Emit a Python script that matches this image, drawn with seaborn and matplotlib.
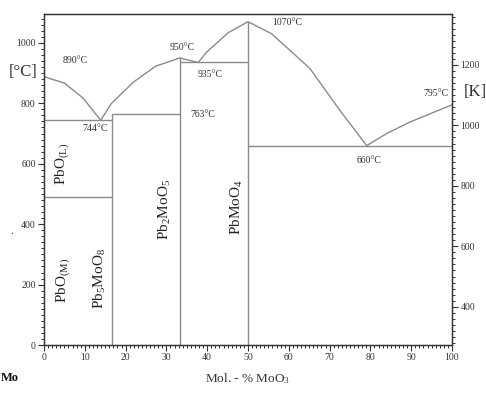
import matplotlib
matplotlib.use("Agg")
import matplotlib.pyplot as plt
from matplotlib.ticker import MultipleLocator
import seaborn as sns
import pandas as pd

# Liquidus of the PbO - MoO3 system (mol. % MoO3, temperature in °C)
liq_x = [0, 5, 9.6, 13.9, 16.5, 21.9, 27.4, 33.3, 37.8, 39.9, 45.2, 50, 55.8, 65.2, 72.5, 79.1, 84, 89.7, 100]
liq_t = [888, 867, 817, 744, 799, 870, 923, 950, 935, 970, 1034, 1070, 1030, 915, 777, 660, 700, 738, 795]

# Invariant (horizontal) lines: start, end, temperature
inv_x0 = [0, 0, 16.7, 33.3, 50]
inv_x1 = [16.7, 16.7, 33.3, 50, 100]
inv_t = [489, 744, 763, 935, 660]

# Compounds (vertical lines): composition, upper temperature
comp_x = [16.7, 33.3, 50]
comp_t = [763, 950, 1070]

# Phase names: text, x, T
phase_txt = [r"PbO$_{\mathrm{(L)}}$", r"PbO$_{\mathrm{(M)}}$", r"Pb$_{\mathrm{5}}$MoO$_{\mathrm{8}}$",
             r"Pb$_{\mathrm{2}}$MoO$_{\mathrm{5}}$", r"PbMoO$_{\mathrm{4}}$"]
phase_x = [4.4, 4.7, 13.7, 29.7, 47.2]
phase_t = [600, 215, 222, 450, 456]

# Temperature notes: text, x, T
note_txt = ["890°C", "744°C", "950°C", "935°C", "763°C", "1070°C", "660°C", "795°C"]
note_x = [7.6, 12.5, 33.9, 40.7, 39.0, 59.6, 79.7, 96.0]
note_t = [942, 717, 985, 896, 763, 1068, 612, 833]

sns.set_theme(style="ticks")
plt.rcParams["font.family"] = ["Liberation Serif", "DejaVu Serif"]
plt.rcParams["mathtext.fontset"] = "custom"
plt.rcParams["mathtext.rm"] = "Liberation Serif"
plt.rcParams["mathtext.it"] = "Liberation Serif:italic"
plt.rcParams["mathtext.bf"] = "Liberation Serif:bold"

line_col = "#8a8a8a"

fig = plt.figure(figsize=(4.86, 3.93), dpi=100)
ax = fig.add_axes([0.0905, 0.122, 0.8395, 0.842])

df = pd.DataFrame({"x": liq_x, "T": liq_t})
sns.lineplot(data=df, x="x", y="T", sort=False, color=line_col, lw=1.0, ax=ax)

for a, b, t in zip(inv_x0, inv_x1, inv_t):
    ax.plot([a, b], [t, t], color=line_col, lw=1.0)
for c, t in zip(comp_x, comp_t):
    ax.plot([c, c], [0, t], color=line_col, lw=1.0)

for s, x, t in zip(phase_txt, phase_x, phase_t):
    ax.text(x, t, s, rotation=90, ha="center", va="center", fontsize=11, color="#222222")
for s, x, t in zip(note_txt, note_x, note_t):
    ax.text(x, t, s, ha="center", va="center", fontsize=7, color="#333333")

ax.set_xlim(0, 100)
ax.set_ylim(0, 1095)
ax.set_xticks(range(0, 101, 10))
ax.set_yticks(range(0, 1001, 200))
ax.xaxis.set_minor_locator(MultipleLocator(1))
ax.yaxis.set_minor_locator(MultipleLocator(20))
ax.tick_params(which="major", length=4, width=0.8, labelsize=7, colors="#333333", pad=2)
ax.tick_params(which="minor", length=2.2, width=0.7, colors="#333333")
ax.set_xlabel(r"Mol. - % MoO$_{\mathrm{3}}$", fontsize=9.5, color="#333333", labelpad=6)
ax.set_ylabel("")
for sp in ax.spines.values():
    sp.set_color("#333333")
    sp.set_linewidth(0.9)

# Kelvin scale on the right
ax2 = ax.twinx()
ax2.set_ylim(0 + 273.15, 1095 + 273.15)
ax2.set_yticks(range(400, 1201, 200))
ax2.yaxis.set_minor_locator(MultipleLocator(20))
ax2.tick_params(which="major", length=4, width=0.8, labelsize=7, colors="#333333", pad=2)
ax2.tick_params(which="minor", length=2.2, width=0.7, colors="#333333")
for sp in ax2.spines.values():
    sp.set_color("#333333")
    sp.set_linewidth(0.9)

fig.text(23 / 486, 1 - 72 / 393, "[°C]", ha="center", va="center", fontsize=12, color="#333333")
fig.text(475 / 486, 1 - 92 / 393, "[K]", ha="center", va="center", fontsize=12, color="#333333")
fig.text(12 / 486, 1 - 231 / 393, ".", ha="center", va="center", fontsize=8, color="#333333")
fig.text(1 / 486, 1 - 378 / 393, "Mo", ha="left", va="center", fontsize=9, fontweight="bold", color="#111111")

fig.savefig("out.png", dpi=100)
